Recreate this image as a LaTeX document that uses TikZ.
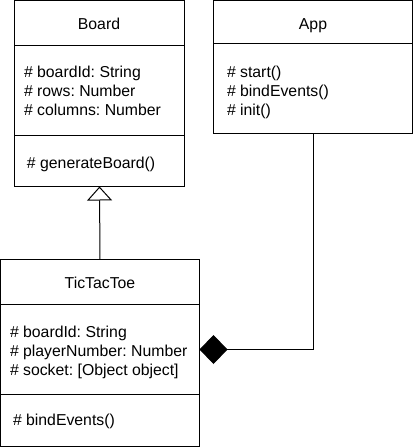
\documentclass[tikz,border=0pt]{standalone}
\usepackage{fontspec}
\setmainfont{Liberation Sans}
\usetikzlibrary{arrows.meta,calc}
\frenchspacing
\begin{document}
\begin{tikzpicture}[x=1pt,y=-1pt,
  umlbox/.style={draw,line width=1pt,inner sep=0pt,outer sep=0pt},
  txt/.style={inner sep=0pt,outer sep=0pt,anchor=base west,font=\fontsize{15.8}{19}\selectfont},
  ttl/.style={inner sep=0pt,outer sep=0pt,anchor=base,font=\fontsize{15.8}{19}\selectfont},
  divider/.style={line width=1pt},
  conn/.style={line width=1pt}]
\useasboundingbox (0,0) rectangle (413,447);
% Board
\node[umlbox,minimum width=170pt,minimum height=186pt] (board) at (99.5,93.5) {};
\draw[divider] (14.5,45.5) -- (184.5,45.5);
\draw[divider] (14.5,135.5) -- (184.5,135.5);
\node[ttl] (boardT) at (99,29) {Board};
\node[txt] (boardA1) at (24,77.5) {\# boardId: String};
\node[txt] (boardA2) at (24,96.5) {\# rows: Number};
\node[txt] (boardA3) at (24,115.5) {\# columns: Number};
\node[txt] (boardM1) at (27,168) {\# generateBoard()};
% App
\node[umlbox,minimum width=199pt,minimum height=133pt] (app) at (313,67) {};
\draw[divider] (213.5,43.5) -- (412.5,43.5);
\node[ttl] (appT) at (313,29) {App};
\node[txt] (appM1) at (227,77.5) {\# start()};
\node[txt] (appM2) at (227,96.5) {\# bindEvents()};
\node[txt] (appM3) at (227,115) {\# init()};
% TicTacToe
\node[umlbox,minimum width=199pt,minimum height=187pt] (tic) at (100,353) {};
\draw[divider] (0.5,304.5) -- (199.5,304.5);
\draw[divider] (0.5,394.5) -- (199.5,394.5);
\node[ttl] (ticT) at (100,288.5) {TicTacToe};
\node[txt] (ticA1) at (10,337) {\# boardId: String};
\node[txt] (ticA2) at (10,356) {\# playerNumber: Number};
\node[txt] (ticA3) at (10,375) {\# socket: [Object object]};
\node[txt] (ticM1) at (13,425.5) {\# bindEvents()};
% connectors
\draw[conn,-{Triangle[open,width=25pt,length=14pt,fill=white]}] (tic.north) -- (board.south);
\draw[conn,-{Diamond[width=29pt,length=28pt]}] (app.south) |- ([yshift=3.5pt]tic.east);
\end{tikzpicture}
\end{document}
